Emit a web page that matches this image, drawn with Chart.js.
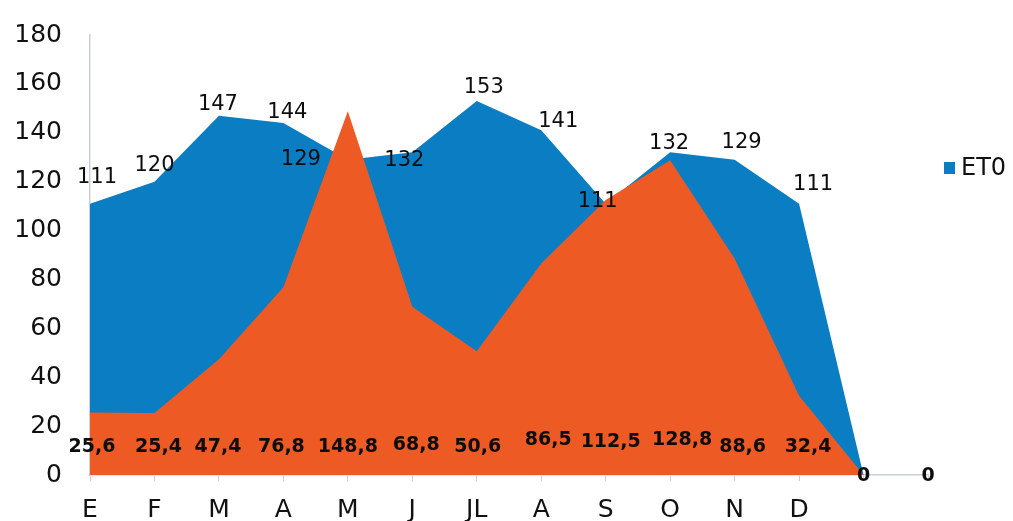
<!DOCTYPE html>
<html><head><meta charset="utf-8">
<script src="https://cdn.jsdelivr.net/npm/chart.js@4.4.0/dist/chart.umd.min.js"></script>
<style>html,body{margin:0;padding:0;background:#fff;overflow:hidden}#wrap{width:1013px;height:521px;position:relative}</style>
</head><body><div id="wrap"><canvas id="c" width="1013" height="521"></canvas></div>
<script>
// ---- data ----
const months = ['E','F','M','A','M','J','JL','A','S','O','N','D','',''];
const et0 = [111,120,147,144,129,132,153,141,111,132,129,111,0,0];
const rain = [25.6,25.4,47.4,76.8,148.8,68.8,50.6,86.5,112.5,128.8,88.6,32.4,0,0];
const yMax = 180;
const yStep = 20;
const legendLabel = 'ET0';

// ---- label placement (style only) ----
const et0LabelDx = [7,0,-1,4,-47,-8,7,17,-8,-1,7,14,null,null];
const et0LabelDy = [-26,-16,-11,-10,0,8,-13,-9,-2,-9,-17,-19,null,null];
const rainLabelDx = [2,4,-1,-2,0,4,1,7,5,12,8,9,0,0];
const rainLabelDy = [-28,-28,-28,-28,-28,-30,-28,-35,-33,-35,-28,-28,1,1]; // from zero line

const BLUE = '#0a7dc3';
const ORANGE = '#ee5a24';
const AXIS = '#c9d0d7';
const fmt = v => String(v).replace('.', ',');

const labelPlugin = {
  id: 'valueLabels',
  afterDatasetsDraw(chart) {
    const ctx = chart.ctx;
    const y0 = chart.scales.y.getPixelForValue(0);
    ctx.save();
    ctx.textAlign = 'center';
    ctx.textBaseline = 'middle';
    ctx.fillStyle = '#0d0d0d';
    // ET0 labels
    ctx.font = '21px "DejaVu Sans"';
    const mb = chart.getDatasetMeta(0);
    mb.data.forEach((p, i) => {
      if (et0LabelDx[i] === null) return;
      ctx.fillText(fmt(et0[i]), p.x + et0LabelDx[i], p.y + et0LabelDy[i]);
    });
    // rain labels
    ctx.font = 'bold 19px "DejaVu Sans"';
    const mo = chart.getDatasetMeta(1);
    mo.data.forEach((p, i) => {
      ctx.fillText(fmt(rain[i]), p.x + rainLabelDx[i], y0 + rainLabelDy[i]);
    });
    ctx.restore();
  },
  afterDraw(chart) {
    const ctx = chart.ctx;
    ctx.save();
    ctx.fillStyle = BLUE;
    ctx.fillRect(944, 162, 11, 12);
    ctx.fillStyle = '#111';
    ctx.font = '24px "DejaVu Sans"';
    ctx.textAlign = 'left';
    ctx.textBaseline = 'middle';
    ctx.fillText(legendLabel, 961, 169);
    ctx.restore();
  }
};

new Chart(document.getElementById('c'), {
  type: 'line',
  data: {
    labels: months,
    datasets: [
      { label: legendLabel, data: et0, backgroundColor: BLUE, borderWidth: 0, borderColor: BLUE,
        fill: 'origin', pointRadius: 0, tension: 0, order: 2 },
      { label: 'P', data: rain, backgroundColor: ORANGE, borderWidth: 0, borderColor: ORANGE,
        fill: 'origin', pointRadius: 0, tension: 0, order: 1 }
    ]
  },
  options: {
    responsive: false,
    devicePixelRatio: 1,
    animation: false,
    layout: { padding: { top: 35, right: 85, left: 0, bottom: 0 } },
    plugins: { legend: { display: false }, tooltip: { enabled: false } },
    scales: {
      x: {
        offset: false,
        grid: { display: true, drawOnChartArea: false, drawTicks: true, tickLength: 6, color: AXIS },
        border: { display: true, color: AXIS, width: 1.5 },
        ticks: { font: { family: 'DejaVu Sans', size: 25 }, color: '#111', padding: 14, maxRotation: 0, autoSkip: false },
        afterFit: s => { s.height = 46; s.paddingLeft = 0; s.paddingRight = 0; }
      },
      y: {
        min: 0, max: yMax,
        grid: { display: false, drawTicks: false },
        border: { display: true, color: AXIS, width: 1.5 },
        ticks: { stepSize: yStep, font: { family: 'DejaVu Sans', size: 25 }, color: '#111', padding: 28 },
        afterFit: s => { s.width = 90; s.paddingTop = 0; s.paddingBottom = 0; }
      }
    }
  },
  plugins: [labelPlugin]
});
</script>
</body></html>
